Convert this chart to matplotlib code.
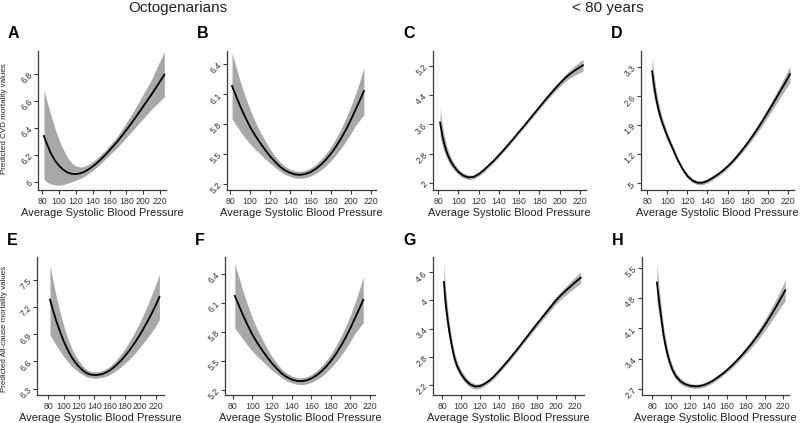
import matplotlib
matplotlib.use("Agg")
import numpy as np
import matplotlib.pyplot as plt

plt.rcParams['font.family'] = ['Liberation Sans', 'DejaVu Sans']

# ---- data: SBP, fitted value, band half width ----
sbp_ticks = [80, 100, 120, 140, 160, 180, 200, 220]

# A: octogenarians, CVD mortality
a_sbp = [82, 85, 90, 95, 100, 105, 110, 115, 120, 125, 130, 135, 140, 145, 150, 155,
         160, 165, 170, 175, 180, 185, 190, 195, 200, 205, 210, 215, 220, 225]
a_fit = [6.34, 6.29, 6.215, 6.16, 6.12, 6.09, 6.07, 6.06, 6.058, 6.063, 6.075, 6.093, 6.115, 6.14, 6.17, 6.20,
         6.235, 6.27, 6.305, 6.345, 6.385, 6.427, 6.47, 6.515, 6.56, 6.605, 6.65, 6.697, 6.745, 6.795]
a_hi = [6.68, 6.61, 6.50, 6.40, 6.31, 6.24, 6.18, 6.14, 6.118, 6.11, 6.115, 6.13, 6.15, 6.175, 6.205, 6.235,
        6.27, 6.305, 6.345, 6.39, 6.44, 6.49, 6.54, 6.595, 6.65, 6.705, 6.76, 6.83, 6.90, 6.96]
a_lo = [6.02, 6.00, 5.985, 5.978, 5.975, 5.98, 5.99, 6.00, 6.012, 6.025, 6.04, 6.062, 6.085, 6.11, 6.14, 6.17,
        6.20, 6.23, 6.26, 6.295, 6.33, 6.365, 6.40, 6.435, 6.47, 6.505, 6.54, 6.57, 6.60, 6.63]
a_yticks = [6, 6.2, 6.4, 6.6, 6.8]
a_ylabels = ["6", "6.2", "6.4", "6.6", "6.8"]

# B: octogenarians, CVD mortality (second model)
b_sbp = [82, 85, 90, 95, 100, 105, 110, 115, 120, 125, 130, 135, 140, 145, 150, 155,
         160, 165, 170, 175, 180, 185, 190, 195, 200, 205, 210, 213]
b_fit = [6.18, 6.105, 5.98, 5.87, 5.77, 5.685, 5.61, 5.54, 5.475, 5.42, 5.37, 5.335, 5.31, 5.295, 5.292, 5.30,
         5.32, 5.35, 5.39, 5.44, 5.50, 5.57, 5.65, 5.74, 5.84, 5.95, 6.06, 6.13]
b_ci = [0.33, 0.30, 0.25, 0.21, 0.17, 0.14, 0.11, 0.09, 0.07, 0.055, 0.045, 0.04, 0.036, 0.035, 0.035, 0.036,
        0.04, 0.045, 0.052, 0.06, 0.07, 0.083, 0.097, 0.115, 0.135, 0.16, 0.205, 0.235]
b_yticks = [5.2, 5.5, 5.8, 6.1, 6.4]
b_ylabels = ["5.2", "5.5", "5.8", "6.1", "6.4"]

# C: < 80 years, CVD mortality
c_sbp = [82, 84, 86, 88, 90, 92, 95, 98, 101, 105, 110, 115, 120, 125, 130, 135, 140, 145, 150, 155,
         160, 165, 170, 175, 180, 185, 190, 195, 200, 205, 210, 215, 220, 223]
c_fit = [3.65, 3.33, 3.08, 2.89, 2.74, 2.62, 2.48, 2.37, 2.28, 2.20, 2.155, 2.165, 2.24, 2.35, 2.48, 2.61, 2.76, 2.91, 3.07, 3.23,
         3.40, 3.56, 3.73, 3.90, 4.07, 4.24, 4.40, 4.56, 4.71, 4.85, 4.97, 5.07, 5.16, 5.21]
c_ci = [0.38, 0.30, 0.23, 0.18, 0.15, 0.13, 0.10, 0.085, 0.075, 0.068, 0.062, 0.057, 0.055, 0.055, 0.055, 0.053, 0.052, 0.05, 0.05, 0.05,
        0.05, 0.05, 0.052, 0.055, 0.058, 0.063, 0.068, 0.075, 0.085, 0.097, 0.11, 0.125, 0.15, 0.165]
c_yticks = [2, 2.8, 3.6, 4.4, 5.2]
c_ylabels = ["2", "2.8", "3.6", "4.4", "5.2"]

# D: < 80 years, CVD mortality (second model)
d_sbp = [85, 87, 89, 91, 93, 95, 98, 101, 105, 110, 115, 120, 125, 130, 135, 140, 145, 150, 155,
         160, 165, 170, 175, 180, 185, 190, 195, 200, 205, 210, 215, 220, 222]
d_fit = [3.20, 2.84, 2.55, 2.32, 2.13, 1.97, 1.77, 1.58, 1.36, 1.08, 0.85, 0.67, 0.56, 0.505, 0.505, 0.55, 0.62, 0.70, 0.79,
         0.90, 1.02, 1.16, 1.31, 1.47, 1.64, 1.82, 2.01, 2.21, 2.41, 2.62, 2.83, 3.04, 3.13]
d_ci = [0.35, 0.27, 0.21, 0.17, 0.14, 0.12, 0.10, 0.09, 0.08, 0.065, 0.058, 0.053, 0.05, 0.05, 0.05, 0.05, 0.05, 0.05, 0.05,
        0.05, 0.052, 0.056, 0.062, 0.07, 0.078, 0.088, 0.10, 0.11, 0.125, 0.14, 0.16, 0.185, 0.20]
d_yticks = [0.5, 1.2, 1.9, 2.6, 3.3]
d_ylabels = [".5", "1.2", "1.9", "2.6", "3.3"]

# E: octogenarians, all-cause mortality
e_sbp = [82, 85, 90, 95, 100, 105, 110, 115, 120, 125, 130, 135, 140, 145, 150, 155,
         160, 165, 170, 175, 180, 185, 190, 195, 200, 205, 210, 215, 220, 225]
e_fit = [7.28, 7.19, 7.05, 6.93, 6.82, 6.73, 6.65, 6.59, 6.54, 6.50, 6.47, 6.455, 6.45, 6.452, 6.46, 6.477,
         6.50, 6.532, 6.57, 6.612, 6.66, 6.713, 6.77, 6.833, 6.90, 6.973, 7.05, 7.13, 7.215, 7.31]
e_ci = [0.385, 0.34, 0.27, 0.215, 0.17, 0.13, 0.10, 0.077, 0.06, 0.048, 0.04, 0.036, 0.035, 0.035, 0.036, 0.04,
        0.045, 0.052, 0.06, 0.07, 0.08, 0.094, 0.11, 0.125, 0.14, 0.16, 0.18, 0.205, 0.228, 0.25]
e_yticks = [6.3, 6.6, 6.9, 7.2, 7.5]
e_ylabels = ["6.3", "6.6", "6.9", "7.2", "7.5"]

# F: octogenarians, all-cause mortality (second model)
f_sbp = [82, 85, 90, 95, 100, 105, 110, 115, 120, 125, 130, 135, 140, 145, 150, 155,
         160, 165, 170, 175, 180, 185, 190, 195, 200, 205, 210, 213]
f_fit = [6.17, 6.10, 5.98, 5.87, 5.77, 5.685, 5.61, 5.54, 5.475, 5.42, 5.37, 5.335, 5.31, 5.295, 5.292, 5.30,
         5.32, 5.35, 5.39, 5.44, 5.50, 5.57, 5.65, 5.74, 5.84, 5.95, 6.06, 6.13]
f_ci = [0.33, 0.30, 0.25, 0.21, 0.17, 0.14, 0.11, 0.09, 0.07, 0.055, 0.045, 0.04, 0.036, 0.035, 0.035, 0.036,
        0.04, 0.045, 0.052, 0.06, 0.07, 0.083, 0.097, 0.115, 0.135, 0.16, 0.205, 0.235]
f_yticks = [5.2, 5.5, 5.8, 6.1, 6.4]
f_ylabels = ["5.2", "5.5", "5.8", "6.1", "6.4"]

# G: < 80 years, all-cause mortality
g_sbp = [82, 83, 84, 86, 88, 90, 93, 96, 100, 105, 110, 115, 120, 125, 130, 135, 140, 145, 150, 155,
         160, 165, 170, 175, 180, 185, 190, 195, 200, 205, 210, 215, 220, 226]
g_fit = [4.39, 4.12, 3.90, 3.58, 3.30, 3.07, 2.78, 2.60, 2.44, 2.30, 2.21, 2.17, 2.18, 2.23, 2.30, 2.39, 2.50, 2.615, 2.73, 2.855,
         2.98, 3.11, 3.24, 3.37, 3.50, 3.625, 3.75, 3.875, 4.00, 4.105, 4.20, 4.29, 4.38, 4.48]
g_ci = [0.42, 0.35, 0.30, 0.23, 0.18, 0.15, 0.12, 0.10, 0.08, 0.068, 0.06, 0.055, 0.05, 0.045, 0.045, 0.045, 0.045, 0.045, 0.045, 0.045,
        0.045, 0.045, 0.048, 0.052, 0.056, 0.06, 0.065, 0.07, 0.076, 0.083, 0.09, 0.10, 0.11, 0.12]
g_yticks = [2.2, 2.8, 3.4, 4, 4.6]
g_ylabels = ["2.2", "2.8", "3.4", "4", "4.6"]

# H: < 80 years, all-cause mortality (second model)
h_sbp = [85, 86, 88, 90, 92, 94, 96, 98, 101, 105, 110, 115, 120, 125, 130, 135, 140, 145, 150, 155,
         160, 165, 170, 175, 180, 185, 190, 195, 200, 205, 210, 215, 220, 222]
h_fit = [5.16, 4.95, 4.60, 4.27, 3.95, 3.72, 3.52, 3.36, 3.17, 3.00, 2.88, 2.81, 2.775, 2.76, 2.765, 2.79, 2.835, 2.895, 2.97, 3.05,
         3.14, 3.24, 3.35, 3.465, 3.59, 3.72, 3.86, 4.01, 4.17, 4.34, 4.52, 4.71, 4.90, 4.98]
h_ci = [0.43, 0.39, 0.31, 0.25, 0.20, 0.165, 0.14, 0.12, 0.10, 0.08, 0.065, 0.057, 0.05, 0.05, 0.05, 0.05, 0.05, 0.05, 0.05, 0.05,
        0.05, 0.053, 0.058, 0.065, 0.075, 0.085, 0.097, 0.11, 0.125, 0.145, 0.165, 0.19, 0.22, 0.245]
h_yticks = [2.7, 3.4, 4.1, 4.8, 5.5]
h_ylabels = ["2.7", "3.4", "4.1", "4.8", "5.5"]


def band(fit, ci):
    fit = np.asarray(fit)
    ci = np.asarray(ci)
    return fit - ci, fit + ci


b_lo, b_hi = band(b_fit, b_ci)
c_lo, c_hi = band(c_fit, c_ci)
d_lo, d_hi = band(d_fit, d_ci)
e_lo, e_hi = band(e_fit, e_ci)
f_lo, f_hi = band(f_fit, f_ci)
g_lo, g_hi = band(g_fit, g_ci)
h_lo, h_hi = band(h_fit, h_ci)

W, H = 800, 423


def px_axes(fig, left, top, right, bottom):
    return fig.add_axes([left / W, 1 - bottom / H, (right - left) / W, (bottom - top) / H])


# letter, data, axes box in pixels (left, top, right, bottom), xlim, ylim, band colour
panels = [
    ("A", a_sbp, a_fit, a_lo, a_hi, a_yticks, a_ylabels, (38, 51, 166, 190), (75, 227), (5.94, 6.97), '#a8a8a8'),
    ("B", b_sbp, b_fit, b_lo, b_hi, b_yticks, b_ylabels, (227, 51, 376, 190), (77, 225), (5.14, 6.53), '#a8a8a8'),
    ("C", c_sbp, c_fit, c_lo, c_hi, c_yticks, c_ylabels, (433, 51, 586, 190), (75, 226), (1.81, 5.60), '#b0b0b0'),
    ("D", d_sbp, d_fit, d_lo, d_hi, d_yticks, d_ylabels, (641, 51, 794, 190), (74, 226), (0.33, 3.69), '#b0b0b0'),
    ("E", e_sbp, e_fit, e_lo, e_hi, e_yticks, e_ylabels, (37, 257, 164, 395), (65, 231), (6.23, 7.75), '#a8a8a8'),
    ("F", f_sbp, f_fit, f_lo, f_hi, f_yticks, f_ylabels, (225, 257, 375, 395), (72, 225), (5.15, 6.57), '#a8a8a8'),
    ("G", g_sbp, g_fit, g_lo, g_hi, g_yticks, g_ylabels, (433, 257, 584, 395), (70.5, 229.5), (1.99, 4.92), '#b0b0b0'),
    ("H", h_sbp, h_fit, h_lo, h_hi, h_yticks, h_ylabels, (642, 257, 789, 395), (69, 226), (2.56, 5.75), '#b0b0b0'),
]

fig = plt.figure(figsize=(W / 100, H / 100), dpi=100)

for letter, x, fit, lo, hi, yt, yl, box, xlim, ylim, band_col in panels:
    ax = px_axes(fig, *box)
    ax.fill_between(x, lo, hi, color=band_col, lw=0, zorder=1)
    ax.plot(x, fit, color='black', lw=1.3, zorder=2, solid_joinstyle='round')
    ax.set_xlim(*xlim)
    ax.set_ylim(*ylim)
    ax.set_xticks(sbp_ticks)
    ax.set_yticks(yt)
    ax.set_yticklabels(yl, rotation=45, ha='right', va='center', rotation_mode='anchor')
    for s in ['top', 'right']:
        ax.spines[s].set_visible(False)
    for s in ['left', 'bottom']:
        ax.spines[s].set_color('#3a3a3a')
        ax.spines[s].set_linewidth(0.9)
    ax.tick_params(axis='both', direction='out', length=3, width=0.8, color='#3a3a3a',
                   labelsize=6.3, labelcolor='#333333', pad=2)
    ax.set_xlabel("Average Systolic Blood Pressure", fontsize=8, color='#222222', labelpad=1.5)
    # panel letter
    fig.text((box[0] - 30) / W, 1 - (box[1] - 17) / H, letter, fontsize=11.5,
             fontweight='bold', ha='left', va='center', color='black')

fig.text(5 / W, 1 - 119 / H, "Predicted CVD mortality values", rotation=90,
         fontsize=5.8, ha='center', va='center', color='#222222')
fig.text(5 / W, 1 - 329 / H, "Predicted All-cause mortality values", rotation=90,
         fontsize=5.8, ha='center', va='center', color='#222222')

fig.text(178 / W, 1 - 8 / H, "Octogenarians", fontsize=11, ha='center', va='center', color='#222222')
fig.text(608 / W, 1 - 8 / H, "< 80 years", fontsize=11, ha='center', va='center', color='#222222')

fig.savefig("out.png", dpi=100, facecolor='white')
